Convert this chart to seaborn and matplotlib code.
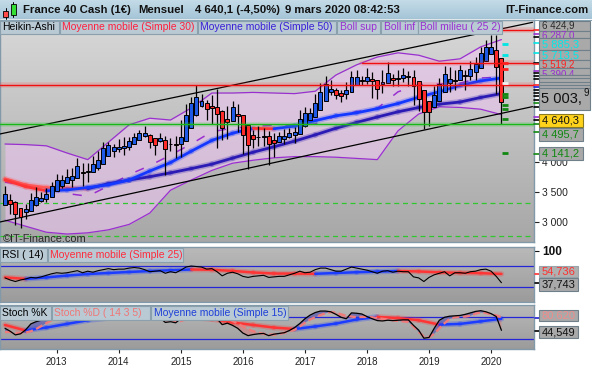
import numpy as np
import pandas as pd
import matplotlib
matplotlib.use("Agg")
import matplotlib.pyplot as plt
import matplotlib.transforms as mtransforms
import seaborn as sns
from matplotlib.patches import Rectangle
from matplotlib.colors import LinearSegmentedColormap

# ------------------------------------------------------------------
# values read off the chart : France 40, monthly Heikin-Ashi candles
# ------------------------------------------------------------------
first_month = '2012-03-01'

ha_open = [3285, 3375, 3341, 3235, 3160, 3185, 3277, 3349, 3376, 3423,
           3514, 3607, 3656, 3705, 3736, 3832, 3826, 3835, 3901, 3970,
           4099, 4190, 4217, 4235, 4254, 4305, 4364, 4427, 4458, 4400,
           4344, 4373, 4297, 4300, 4296, 4357, 4568, 4778, 4932, 4978,
           4931, 4918, 4857, 4713, 4690, 4800, 4783, 4620, 4451, 4414,
           4418, 4430, 4366, 4338, 4383, 4409, 4446, 4473, 4594, 4706,
           4758, 4873, 5022, 5160, 5192, 5158, 5127, 5163, 5290, 5357,
           5354, 5385, 5364, 5293, 5318, 5402, 5381, 5394, 5423, 5423,
           5344, 5196, 5015, 4925, 5020, 5159, 5314, 5352, 5362, 5452,
           5442, 5499, 5566, 5692, 5804, 5864, 5728]
ha_close = [3465, 3307, 3128, 3084, 3210, 3369, 3420, 3404, 3469, 3605,
            3701, 3704, 3754, 3767, 3929, 3819, 3845, 3968, 4040, 4228,
            4281, 4243, 4253, 4273, 4355, 4422, 4489, 4488, 4342, 4287,
            4402, 4220, 4303, 4291, 4417, 4779, 4988, 5086, 5024, 4885,
            4906, 4796, 4570, 4666, 4911, 4766, 4456, 4283, 4377, 4421,
            4441, 4303, 4309, 4427, 4434, 4482, 4499, 4715, 4818, 4809,
            4988, 5170, 5298, 5224, 5124, 5095, 5199, 5416, 5424, 5351,
            5416, 5343, 5222, 5342, 5487, 5360, 5406, 5452, 5422, 5266,
            5047, 4834, 4834, 5116, 5298, 5469, 5389, 5372, 5542, 5432,
            5555, 5632, 5819, 5916, 5924, 5592, 5003.9]
ha_high = [3600, 3460, 3345, 3240, 3300, 3490, 3590, 3500, 3560, 3670,
           3800, 3790, 3880, 3900, 4060, 3990, 3990, 4100, 4180, 4330,
           4330, 4300, 4390, 4410, 4420, 4490, 4530, 4600, 4470, 4400,
           4480, 4440, 4400, 4430, 4700, 4960, 5085, 5283, 5130, 5040,
           5120, 5220, 4860, 4930, 5010, 4970, 4785, 4620, 4530, 4600,
           4570, 4520, 4480, 4500, 4550, 4560, 4590, 4870, 4920, 4900,
           5130, 5310, 5440, 5370, 5230, 5200, 5330, 5510, 5540, 5440,
           5570, 5500, 5365, 5530, 5660, 5460, 5530, 5560, 5520, 5530,
           5345, 5196, 5015, 5260, 5400, 5600, 5590, 5540, 5620, 5530,
           5690, 5750, 5920, 6030, 6111, 6111, 5728]
ha_low = [3280, 3130, 2950, 2900, 3050, 3180, 3275, 3330, 3330, 3420,
          3510, 3570, 3650, 3580, 3735, 3600, 3660, 3830, 3860, 3970,
          4095, 4080, 4160, 4110, 4200, 4300, 4360, 4410, 4230, 4120,
          4330, 3790, 4190, 4070, 4090, 4355, 4565, 4775, 4910, 4700,
          4630, 4230, 4370, 4380, 4690, 4500, 4130, 3890, 4240, 4270,
          4260, 3950, 4080, 4330, 4300, 4405, 4320, 4470, 4590, 4705,
          4755, 4870, 5020, 5120, 5050, 5000, 5050, 5160, 5280, 5280,
          5300, 5070, 5050, 5150, 5315, 5260, 5260, 5330, 5270, 4950,
          4850, 4550, 4600, 4925, 5020, 5159, 5170, 5200, 5362, 5200,
          5370, 5370, 5566, 5692, 5800, 5140, 4640]

# overlays sampled every 4 months (Mar 2012 .. Mar 2020)
ma30 = [3700, 3590, 3520, 3535, 3575, 3620, 3700, 3850, 3990, 4180, 4360, 4480, 4560,
        4555, 4600, 4690, 4770, 4820, 4890, 4975, 5080, 5172, 5277, 5352, 5400]
ma50 = [3720, 3620, 3575, 3565, 3555, 3640, 3700, 3755, 3820, 3890, 3964, 4065, 4164,
        4254, 4348, 4453, 4563, 4660, 4750, 4837, 4908, 4964, 5000, 5076, 5140]
boll_sup = [4300, 4290, 4270, 4150, 4040, 4330, 4620, 4730, 4700, 4900, 5150, 5150, 5160,
            5150, 5140, 5180, 5450, 5620, 5750, 5820, 5780, 5680, 5720, 5920, 6040]
boll_inf = [3030, 2930, 2830, 2800, 2820, 2870, 2960, 3150, 3530, 3700, 3860, 3980, 4030,
            4070, 4090, 4090, 4080, 4060, 4040, 4520, 4800, 4920, 4910, 4880, 4790]
boll_mid = [3665, 3610, 3550, 3475, 3430, 3600, 3790, 3940, 4115, 4300, 4505, 4565, 4595,
            4610, 4615, 4635, 4765, 4840, 4895, 5170, 5290, 5300, 5315, 5400, 5415]

# trend channel (two end points each) and horizontal levels
channel_months = ['2012-02-01', '2020-09-01']
channel_top = [4467, 6328]
channel_bottom = [3000, 4923]
red_levels = [5283, 5645, 6200]
red_from = ['2012-02-01', '2017-12-01', '2020-03-01']
green_level = 4630
green_dashed = [3317, 2767]
pivot_marks = [5967, 5783, 5645, 5545, 5311, 5133, 5089, 4950, 4883, 4717, 4150]
pivot_colors = ['#00e5e5', '#00e5e5', '#ff2020', '#ff2020', '#f0f0f0', '#118811',
                '#118811', '#118811', '#118811', '#118811', '#118811']

# RSI (14) and its 25 moving average
rsi = [47, 43, 40, 43, 45, 48, 47, 49, 52, 55,
       57, 56, 57, 59, 61, 57, 60, 58, 61, 63,
       65, 63, 64, 64, 66, 67, 66, 63, 59, 60,
       61, 56, 59, 57, 62, 68, 70, 69, 68, 64,
       65, 59, 51, 56, 58, 55, 50, 48, 50, 51,
       52, 48, 49, 50, 50, 53, 56, 60, 57, 58,
       63, 66, 66, 63, 60, 60, 64, 68, 66, 64,
       62, 59, 56, 60, 61, 58, 60, 59, 59, 49,
       47, 40, 48, 53, 56, 59, 51, 57, 57, 56,
       59, 60, 63, 64, 60, 50, 37.743]
rsi_ma = [48, 45, 48, 51.5, 54.5, 56.5, 58.5, 60.3, 61.8, 63.3, 62.8, 60.5, 57.5,
          55.5, 55.3, 55.0, 56.5, 58.0, 59.2, 60.3, 59.5, 57.8, 56.8, 56.2, 54.736]

# Stochastic %K, %D (14 3 5) and moving average 15
stoch_k = [50, 42, 32, 35, 46, 62, 68, 72, 78, 84,
           90, 86, 88, 90, 94, 84, 86, 88, 92, 96,
           97, 95, 92, 93, 94, 96, 97, 94, 84, 80,
           78, 66, 68, 65, 76, 90, 95, 97, 95, 90,
           88, 76, 60, 64, 58, 50, 37, 30, 33, 35,
           36, 30, 34, 36, 38, 44, 52, 63, 76, 86,
           93, 97, 97, 95, 88, 80, 76, 92, 91, 89,
           82, 76, 71, 70, 72, 71, 72, 73, 73, 58,
           45, 23, 25, 50, 72, 80, 83, 84, 85, 88,
           92, 96, 98, 95, 90, 82, 44.549]
stoch_d = [40, 40, 38, 37, 38, 42, 48, 56, 64, 72,
           78, 82, 85, 87, 89, 89, 88, 88, 89, 91,
           92, 94, 95, 95, 94, 94, 95, 95, 93, 89,
           85, 79, 74, 70, 70, 74, 80, 87, 93, 94,
           93, 90, 84, 77, 70, 63, 55, 48, 42, 38,
           35, 33, 33, 34, 38, 42, 46, 55, 65, 74,
           80, 86, 91, 94, 93, 88, 84, 82, 80, 81,
           81, 80, 78, 76, 74, 72, 70, 69, 67, 55,
           40, 28, 26, 35, 50, 64, 76, 80, 82, 82,
           84, 90, 93, 92, 88, 85, 80.620]
stoch_ma = [59, 44, 52, 62, 72, 78, 84, 88, 86, 80, 75, 66, 59,
            52, 48, 55, 63, 74, 81, 78, 72, 60, 62, 69, 76]

# values shown in the right-hand price tags
tag_values = [6424.9, 6287.0, 5885.3, 5713.5, 5519.2, 5390.4, 5003.9, 4640.3, 4495.7, 4141.2]

# ------------------------------------------------------------------
W, H = 592, 370
sns.set_theme(style="white")
plt.rcParams['font.family'] = ['Liberation Sans', 'DejaVu Sans']

dates = pd.date_range(first_month, periods=len(ha_close), freq='MS')
x = np.arange(len(dates))
sample_dates = pd.date_range(first_month, periods=len(ma30), freq='4MS')


def month_pos(d):
    d = pd.Timestamp(d)
    return (d.year - dates[0].year) * 12 + d.month - dates[0].month


sx = np.array([month_pos(d) for d in sample_dates])


def frac(x0, y0, x1, y1):
    return [x0 / W, 1 - y1 / H, (x1 - x0) / W, (y1 - y0) / H]


fig = plt.figure(figsize=(W / 100, H / 100), dpi=100)
fig.patch.set_facecolor('white')
ax = fig.add_axes(frac(0, 20, 534, 242))
ax_rsi = fig.add_axes(frac(0, 247, 534, 302))
ax_st = fig.add_axes(frac(0, 305, 534, 349))

xmin, xmax = -0.97, 102.3
grad = np.linspace(0, 1, 256).reshape(-1, 1)
for a, (y0, y1), ctop, cbot in [(ax, (2667, 6367), '#d8d8d8', '#a7a7a7'),
                                (ax_rsi, (0.4, 106.8), '#bababa', '#9b9b9b'),
                                (ax_st, (-6.4, 113.5), '#bababa', '#9b9b9b')]:
    cmap = LinearSegmentedColormap.from_list('bg', [ctop, cbot])
    a.imshow(grad, extent=[xmin, xmax, y0, y1], aspect='auto', cmap=cmap,
             origin='upper', zorder=0)
    a.set_xlim(xmin, xmax)
    a.set_ylim(y0, y1)
    a.set_xticks([])
    a.set_yticks([])
    for s in a.spines.values():
        s.set_color('#8299aa')
        s.set_linewidth(1)


def slope_line(a, xs, ys, up, down, lw, z, glow=True):
    for k in range(len(xs) - 1):
        col = up if ys[k + 1] >= ys[k] else down
        if glow:
            a.plot(xs[k:k + 2], ys[k:k + 2], color=col, lw=lw + 2.2, alpha=0.25,
                   solid_capstyle='round', zorder=z)
        a.plot(xs[k:k + 2], ys[k:k + 2], color=col, lw=lw,
               solid_capstyle='round', zorder=z + 0.1)


# ---- main panel ----
purple = '#9a2fd0'
ax.fill_between(sx, boll_inf, boll_sup, color='#eac4ee', alpha=0.62, lw=0, zorder=1)
sns.lineplot(x=sx, y=boll_sup, ax=ax, color=purple, lw=0.9, zorder=2)
sns.lineplot(x=sx, y=boll_inf, ax=ax, color=purple, lw=0.9, zorder=2)
ax.plot(sx, boll_mid, color=purple, lw=1.1, dashes=(6, 9), zorder=2)

cx = [month_pos(d) for d in channel_months]
ax.plot(cx, channel_top, color='black', lw=0.9, zorder=3)
ax.plot(cx, channel_bottom, color='black', lw=0.9, zorder=3)

for lvl in green_dashed:
    ax.axhline(lvl, color='#2ec82e', lw=0.9, ls=(0, (4, 3)), zorder=3)

slope_line(ax, sx, ma50, '#2b1bb4', '#ff5c5c', 2.0, 4)
slope_line(ax, sx, ma30, '#1438ff', '#ff3434', 2.0, 4.5)

o = np.array(ha_open)
c = np.array(ha_close)
ax.vlines(x, ha_low, ha_high, color='black', lw=0.9, zorder=6)
ax.bar(x, np.maximum(np.abs(c - o), 10), bottom=np.minimum(o, c), width=0.76,
       color=np.where(c >= o, '#1e5ae6', '#ff2a2a'), edgecolor='black',
       linewidth=0.7, zorder=7)

for lvl, start in zip(red_levels, red_from):
    x0 = max(month_pos(start), xmin)
    ax.plot([x0, xmax], [lvl, lvl], color='#ff3030', lw=4, alpha=0.18, zorder=8)
    ax.plot([x0, xmax], [lvl, lvl], color='#f01010', lw=1.0, zorder=8.1)
ax.axhline(green_level, color='#3ccf3c', lw=3.5, alpha=0.2, zorder=8)
ax.axhline(green_level, color='#18b818', lw=1.0, zorder=8.1)

for v, col in zip(pivot_marks, pivot_colors):
    ax.plot([len(dates) - 0.3], [v], ls='none', marker='_', ms=4, mew=2, color=col, zorder=9.1)

ax.text(0.006, 0.014, '\u00a9IT-Finance.com', transform=ax.transAxes, va='center', ha='left',
        fontsize=7.9, color='#2a2a2a', clip_on=True, zorder=9)

ax.yaxis.tick_right()
ax.set_yticks([3000, 3500, 4000])
ax.set_yticklabels([f'{v:,}'.replace(',', ' ') for v in [3000, 3500, 4000]])
ax.tick_params(axis='y', right=True, length=3.6, width=0.8, colors='#222222',
               labelsize=7.4, pad=2)

# axis side marks for the price tags
blend = mtransforms.blended_transform_factory(ax.transAxes, ax.transData)
side_marks = [(6200, '#ff2020'), (6133, purple), (6078, 'black'), (5983, '#00e5e5'),
              (5817, '#00e5e5'), (5655, 'black'), (5633, '#ff2020'), (5522, purple),
              (5483, 'black'), (5433, 'black'), (5383, 'black'), (5283, '#ff2020'),
              (5255, '#2020e0'), (5200, 'black'), (5150, 'black'), (5100, 'black'),
              (5033, 'black'), (4983, '#118811'), (4917, 'black'), (4755, purple),
              (4700, 'black'), (4630, '#118811'), (4495, '#118811'), (4141, '#118811')]
for v, col in side_marks:
    ax.plot([1.0, 1.011], [v, v], transform=blend, color=col, lw=1.2, clip_on=False, zorder=9)

# ---- RSI panel ----
for lvl in (70, 30):
    ax_rsi.axhline(lvl, color='#2424d8', lw=0.9, zorder=2)
slope_line(ax_rsi, sx, rsi_ma, '#1c3cff', '#ff3535', 1.8, 3)
sns.lineplot(x=x, y=rsi, ax=ax_rsi, color='black', lw=0.8, zorder=4)
ax_rsi.yaxis.tick_right()
ax_rsi.set_yticks([100])
ax_rsi.set_yticklabels(['100'], fontweight='bold')
ax_rsi.tick_params(axis='y', right=True, length=3.6, width=0.8, colors='#111111',
                   labelsize=8.5, pad=2)

# ---- Stochastic panel ----
k = np.array(stoch_k, dtype=float)
d = np.array(stoch_d, dtype=float)
for lvl in (80, 20):
    ax_st.axhline(lvl, color='#2424d8', lw=0.9, zorder=2)
ax_st.fill_between(x, k, d, where=k >= d, interpolate=True, color='#6666b0', alpha=0.85, lw=0, zorder=2.5)
ax_st.fill_between(x, k, d, where=k < d, interpolate=True, color='#c98a8a', alpha=0.85, lw=0, zorder=2.5)
slope_line(ax_st, sx, stoch_ma, '#1c3cff', '#ff3535', 1.8, 3)
ax_st.plot(x, d, color='#f07a7a', lw=1.7, dashes=(3, 1.5), zorder=4)
sns.lineplot(x=x, y=k, ax=ax_st, color='black', lw=0.9, zorder=5)

jan = [i for i, dt in enumerate(dates) if dt.month == 1]
ax_st.set_xticks(jan)
ax_st.set_xticklabels([str(dates[i].year) for i in jan])
ax_st.tick_params(axis='x', bottom=True, length=3, width=0.8, colors='#222222',
                  labelsize=7, pad=3)

for a in (ax, ax_rsi, ax_st):
    a.set_xlabel('')
    a.set_ylabel('')
    a.set_xlim(xmin, xmax)

# ---- overlay in pixel coordinates (header, legends, tags) ----
ov = fig.add_axes([0, 0, 1, 1], zorder=20)
ov.patch.set_alpha(0)
ov.axis('off')
hcmap = LinearSegmentedColormap.from_list('hd', ['#c6dde9', '#a4c4d6'])
ov.imshow(grad, extent=[0, W, 19.5, 0], aspect='auto', cmap=hcmap, origin='upper', zorder=0)
ov.set_xlim(0, W)
ov.set_ylim(H, 0)
ov.plot([0, W], [19.5, 19.5], color='#86a2b2', lw=0.8)

# candle icon
ov.plot([5.5, 5.5], [8, 19], color='black', lw=0.7, zorder=1)
ov.add_patch(Rectangle((3, 10.5), 5, 6, facecolor='#ff4a4a', edgecolor='black', lw=0.6, zorder=2))
ov.plot([13, 13], [1.5, 17], color='black', lw=0.7, zorder=1)
ov.add_patch(Rectangle((10.5, 4), 5, 10.5, facecolor='#33dd33', edgecolor='black', lw=0.6, zorder=2))

head = [('France 40 Cash (1\u20ac)', 23), ('Mensuel', 138), ('4 640,1 (-4,50%)', 195),
        ('9 mars 2020 08:42:53', 285)]
for txt, hx in head:
    ov.text(hx, 10.2, txt, fontsize=8.2, fontweight='bold', va='center', ha='left', color='#111111')
ov.text(589, 10.2, 'IT-Finance.com', fontsize=8.2, fontweight='bold', va='center', ha='right',
        color='#111111')

zc = [3]


def tag(x0, y0, x1, y1, text='', color='black', face='#b9cad5', edge='#8ba0ad',
        size=7.5, pad=2.5, ty=None):
    z = zc[0]
    zc[0] += 1
    ov.add_patch(Rectangle((x0, y0), x1 - x0, y1 - y0, facecolor=face, edgecolor=edge,
                           lw=0.8, zorder=z))
    if text:
        yy = (y0 + y1) / 2 + 0.3 if ty is None else ty
        ov.text(x0 + pad, yy, text, color=color, fontsize=size, va='center',
                ha='left', zorder=z + 0.5)


# legends
for txt, col, x0, x1 in [('Heikin-Ashi', '#000000', 0, 59),
                         ('Moyenne mobile (Simple 30)', '#ff1f3d', 60, 197),
                         ('Moyenne mobile (Simple 50)', '#3a1fd6', 198, 336),
                         ('Boll sup', purple, 337, 380), ('Boll inf', purple, 381, 418),
                         ('Boll milieu ( 25 2)', purple, 418, 502)]:
    tag(x0, 20.5, x1, 33.5, txt, col)
for txt, col, x0, x1 in [('RSI ( 14)', '#000000', 0, 47),
                         ('Moyenne mobile (Simple 25)', '#ff2a3a', 48, 183)]:
    tag(x0, 248, x1, 262, txt, col)
for txt, col, x0, x1 in [('Stoch %K', '#000000', 0, 51),
                         ('Stoch %D ( 14 3 5)', '#f07676', 52, 150),
                         ('Moyenne mobile (Simple 15)', '#1f3fd8', 151, 288)]:
    tag(x0, 306, x1, 319.5, txt, col)


def fr(v, nd=1):
    return f'{v:,.{nd}f}'.replace(',', ' ').replace('.', ',')


# right price tags (stacked, each partly covering the previous one)
gface, gedge = '#a9a9a9', '#6f808a'
tag(539, 21, 590, 30.5, fr(tag_values[0]), '#2a2a2a', gface, gedge, 7, ty=25.3)
tag(539, 30.5, 590, 38, fr(tag_values[1]), purple, gface, gedge, 7, ty=35.3)
tag(539, 38, 590, 49.5, fr(tag_values[2]), '#00e8e8', gface, gedge, 8, ty=44.8)
tag(539, 49.5, 590, 59.5, fr(tag_values[3]), '#00e8e8', gface, gedge, 8, ty=55.3)
tag(539, 59.5, 590, 68, fr(tag_values[4]), '#ff2020', gface, gedge, 7, ty=64.8)
tag(539, 68, 590, 75, fr(tag_values[5]), purple, gface, gedge, 7, ty=74.8)
for yy in (74.5, 78, 81.5, 85):
    tag(539, yy, 590, yy + 4.5, '', 'black', gface, gedge)
big = fr(tag_values[6])
tag(539, 88, 590, 110, big[:-1], '#111111', gface, gedge, 10.5, pad=2)
ov.text(583.5, 93.5, big[-1], fontsize=7, color='#111111', va='center', ha='left', zorder=zc[0])
tag(539, 114, 583, 127, fr(tag_values[7]), '#111111', '#ffd21c', '#8a7a20', 8)
tag(539, 128, 583, 141, fr(tag_values[8]), '#118811', gface, gedge, 8)
tag(539, 147, 583, 159.5, fr(tag_values[9]), '#118811', gface, gedge, 8)

# RSI / stochastic tags
tag(539, 266, 578, 277, fr(rsi_ma[-1], 3), '#ff3030', '#b0b0b0', '#9aa4aa', 8)
tag(539, 278, 578, 291, fr(rsi[-1], 3), '#111111', gface, gedge, 8)
tag(539, 310, 578, 321, fr(stoch_d[-1], 3), '#f08c8c', gface, gedge, 8)
tag(539, 326, 578, 338, fr(stoch_k[-1], 3), '#111111', gface, gedge, 8)
for yy, col in [(273.5, '#ff3030'), (282.5, 'black'), (318, '#2020d0'), (331, 'black')]:
    ov.plot([534.5, 539], [yy, yy], color=col, lw=1.2, zorder=2)

fig.savefig('out.png', dpi=100, facecolor='white')
